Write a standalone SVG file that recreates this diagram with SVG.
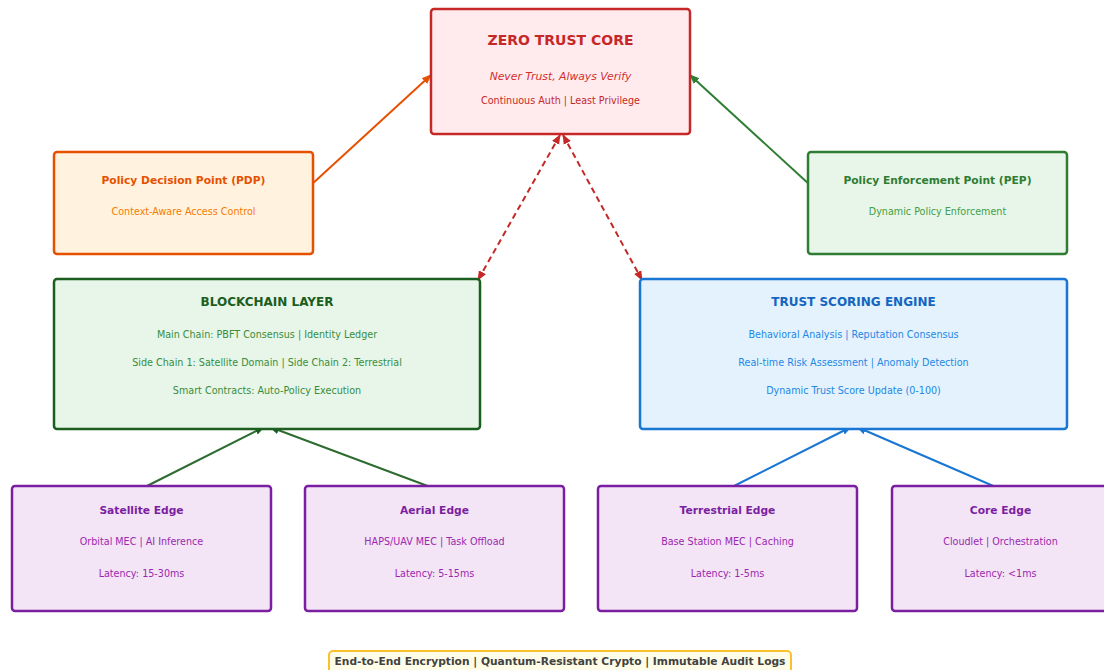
<svg xmlns="http://www.w3.org/2000/svg" width="1104" height="670" viewBox="0 0 1104 670">
<style>
text{font-family:"DejaVu Sans","Liberation Sans",sans-serif;text-anchor:middle}
.b{font-weight:bold}
.box{stroke-width:2.5}
.c{stroke-width:2;fill:none}
.s{font-size:9.6px}
.t{font-size:10.7px;font-weight:bold}
</style>
<defs>
<marker id="aO" viewBox="0 0 10 10" refX="9" refY="5" markerWidth="5" markerHeight="5" orient="auto-start-reverse"><path d="M0,1 L10,5 L0,9 z" fill="#e65100"/></marker>
<marker id="aG" viewBox="0 0 10 10" refX="9" refY="5" markerWidth="5" markerHeight="5" orient="auto-start-reverse"><path d="M0,1 L10,5 L0,9 z" fill="#2e7d32"/></marker>
<marker id="aR" viewBox="0 0 10 10" refX="9" refY="5" markerWidth="5" markerHeight="5" orient="auto-start-reverse"><path d="M0,1 L10,5 L0,9 z" fill="#c62828"/></marker>
<marker id="aD" viewBox="0 0 10 10" refX="9" refY="5" markerWidth="5" markerHeight="5" orient="auto-start-reverse"><path d="M0,1 L10,5 L0,9 z" fill="#1b5e20"/></marker>
<marker id="aB" viewBox="0 0 10 10" refX="9" refY="5" markerWidth="5" markerHeight="5" orient="auto-start-reverse"><path d="M0,1 L10,5 L0,9 z" fill="#1976d2"/></marker>
</defs>
<rect width="1104" height="670" fill="#ffffff"/>

<g id="connectors">
<line class="c" x1="311" y1="185" x2="431" y2="75" stroke="#e65100" marker-end="url(#aO)"/>
<line class="c" x1="810" y1="185" x2="690" y2="75" stroke="#2e7d32" marker-end="url(#aG)"/>
<line class="c" x1="560" y1="135" x2="478" y2="280" stroke="#c62828" stroke-dasharray="6,4" marker-start="url(#aR)" marker-end="url(#aR)"/>
<line class="c" x1="563" y1="135" x2="642" y2="280" stroke="#c62828" stroke-dasharray="6,4" marker-start="url(#aR)" marker-end="url(#aR)"/>
<line class="c" x1="143" y1="488" x2="264" y2="427" stroke="#2e6b30" marker-end="url(#aD)"/>
<line class="c" x1="433" y1="488" x2="270" y2="427" stroke="#2e6b30" marker-end="url(#aD)"/>
<line class="c" x1="730" y1="488" x2="851" y2="427" stroke="#1976d2" marker-end="url(#aB)"/>
<line class="c" x1="998" y1="488" x2="857" y2="427" stroke="#1976d2" marker-end="url(#aB)"/>
</g>

<g id="zero-trust-core">
<rect class="box" x="431" y="9" width="259" height="125" rx="3" fill="#ffebee" stroke="#c62828" stroke-width="3"/>
<text x="560.5" y="45" class="b" font-size="14" fill="#c62828">ZERO TRUST CORE</text>
<text x="560.5" y="80" font-size="10.8" font-style="italic" fill="#d32f2f">Never Trust, Always Verify</text>
<text x="560.5" y="104" class="s" fill="#c62828">Continuous Auth | Least Privilege</text>
</g>

<g id="pdp">
<rect class="box" x="54" y="152" width="259" height="102" rx="3" fill="#fff3e0" stroke="#e65100"/>
<text x="183.5" y="184" class="t" fill="#e65100">Policy Decision Point (PDP)</text>
<text x="183.5" y="215" class="s" fill="#f57c00">Context-Aware Access Control</text>
</g>

<g id="pep">
<rect class="box" x="808" y="152" width="259" height="102" rx="3" fill="#e8f5e9" stroke="#2e7d32"/>
<text x="937.5" y="184" class="t" fill="#2e7d32">Policy Enforcement Point (PEP)</text>
<text x="937.5" y="215" class="s" fill="#43a047">Dynamic Policy Enforcement</text>
</g>

<g id="blockchain-layer">
<rect class="box" x="54" y="279" width="426" height="150" rx="3" fill="#e8f5e9" stroke="#1b5e20"/>
<text x="267" y="306" class="b" font-size="12" fill="#1b5e20">BLOCKCHAIN LAYER</text>
<text x="267" y="338" class="s" fill="#388e3c">Main Chain: PBFT Consensus | Identity Ledger</text>
<text x="267" y="366" class="s" fill="#388e3c">Side Chain 1: Satellite Domain | Side Chain 2: Terrestrial</text>
<text x="267" y="394" class="s" fill="#388e3c">Smart Contracts: Auto-Policy Execution</text>
</g>

<g id="trust-scoring-engine">
<rect class="box" x="640" y="279" width="427" height="150" rx="3" fill="#e3f2fd" stroke="#1976d2"/>
<text x="853.5" y="306" class="b" font-size="12" fill="#1565c0">TRUST SCORING ENGINE</text>
<text x="853.5" y="338" class="s" fill="#1e88e5">Behavioral Analysis | Reputation Consensus</text>
<text x="853.5" y="366" class="s" fill="#1e88e5">Real-time Risk Assessment | Anomaly Detection</text>
<text x="853.5" y="394" class="s" fill="#1e88e5">Dynamic Trust Score Update (0-100)</text>
</g>

<g id="satellite-edge">
<rect class="box" x="12" y="486" width="259" height="125" rx="3" fill="#f3e5f5" stroke="#7b1fa2"/>
<text x="141.5" y="514" class="t" fill="#7b1fa2">Satellite Edge</text>
<text x="141.5" y="545" class="s" fill="#9c27b0">Orbital MEC | AI Inference</text>
<text x="141.5" y="577" class="s" fill="#9c27b0">Latency: 15-30ms</text>
</g>

<g id="aerial-edge">
<rect class="box" x="305" y="486" width="259" height="125" rx="3" fill="#f3e5f5" stroke="#7b1fa2"/>
<text x="434.5" y="514" class="t" fill="#7b1fa2">Aerial Edge</text>
<text x="434.5" y="545" class="s" fill="#9c27b0">HAPS/UAV MEC | Task Offload</text>
<text x="434.5" y="577" class="s" fill="#9c27b0">Latency: 5-15ms</text>
</g>

<g id="terrestrial-edge">
<rect class="box" x="598" y="486" width="259" height="125" rx="3" fill="#f3e5f5" stroke="#7b1fa2"/>
<text x="727.5" y="514" class="t" fill="#7b1fa2">Terrestrial Edge</text>
<text x="727.5" y="545" class="s" fill="#9c27b0">Base Station MEC | Caching</text>
<text x="727.5" y="577" class="s" fill="#9c27b0">Latency: 1-5ms</text>
</g>

<g id="core-edge">
<rect class="box" x="892" y="486" width="259" height="125" rx="3" fill="#f3e5f5" stroke="#7b1fa2"/>
<text x="1000.5" y="514" class="t" fill="#7b1fa2">Core Edge</text>
<text x="1000.5" y="545" class="s" fill="#9c27b0">Cloudlet | Orchestration</text>
<text x="1000.5" y="577" class="s" fill="#9c27b0">Latency: &lt;1ms</text>
</g>

<g id="security-banner">
<rect x="329" y="651" width="462" height="30" rx="4" fill="#fffde7" stroke="#fbc02d" stroke-width="2"/>
<text x="560" y="665" class="t" fill="#424242">End-to-End Encryption | Quantum-Resistant Crypto | Immutable Audit Logs</text>
</g>
</svg>
